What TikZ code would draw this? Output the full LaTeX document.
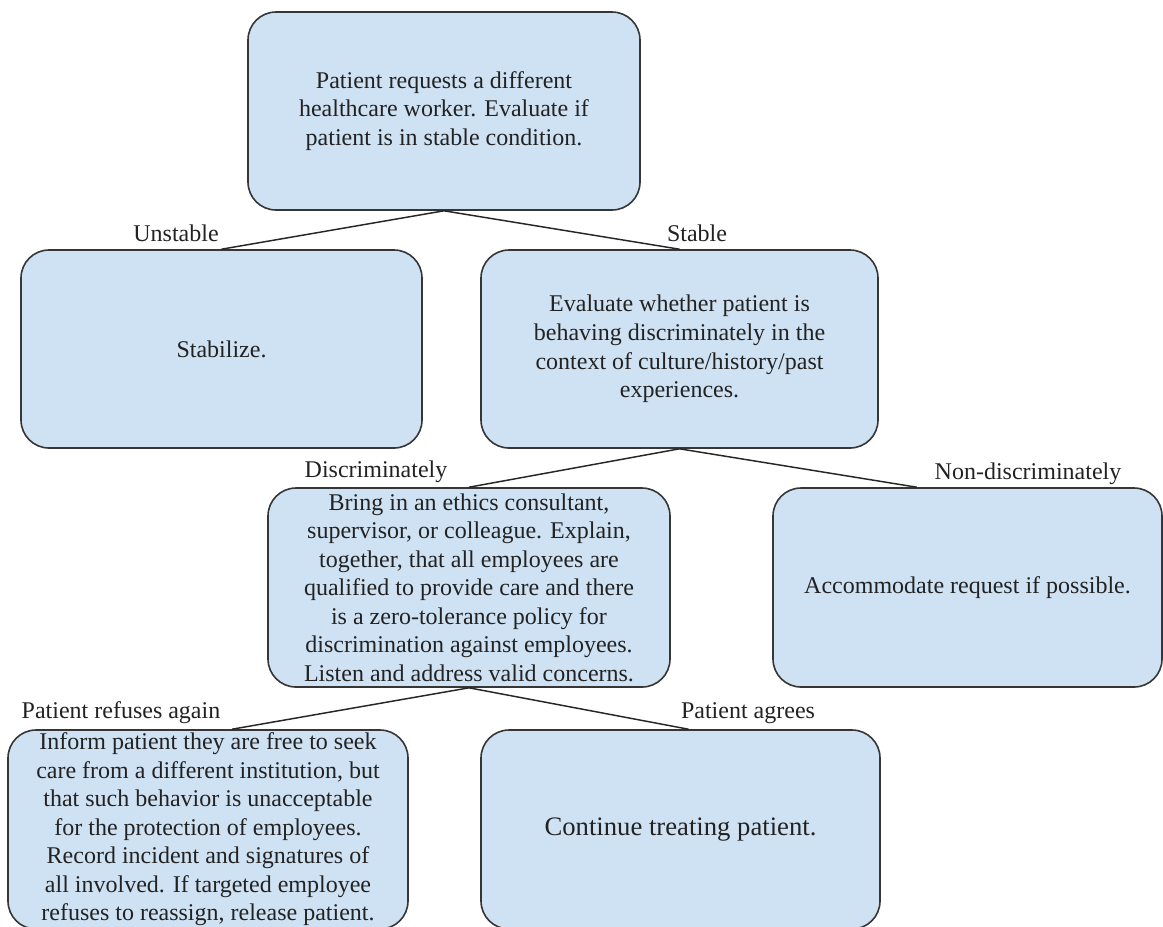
\documentclass[tikz,border=0pt]{standalone}
\usepackage{fontspec}
\setmainfont{LiberationSerif}[Extension=.ttf, UprightFont=*-Regular, BoldFont=*-Bold, ItalicFont=*-Italic, BoldItalicFont=*-BoldItalic]
\usetikzlibrary{calc}
\definecolor{boxfill}{HTML}{CFE2F3}
\definecolor{boxline}{HTML}{363636}
\definecolor{txt}{HTML}{222222}
\begin{document}
\begin{tikzpicture}[x=0.75pt,y=-0.75pt,
 box/.style={draw=boxline, line width=1.2pt, fill=boxfill, rounded corners=21pt, inner sep=0pt, align=center, text=txt, font=\fontsize{18}{21.4}\selectfont},
 lbl/.style={inner sep=0pt, text=txt, font=\fontsize{18}{21.4}\selectfont},
 conn/.style={draw=black!85, line width=1.1pt}]
\useasboundingbox (0,0) rectangle (1163,926);
\node[box, minimum width=294pt, minimum height=148.5pt] (top) at (444,111)
  {Patient requests a different\\healthcare worker. Evaluate if\\patient is in stable condition.};
\node[box, minimum width=300.75pt, minimum height=148.5pt] (stab) at (221.5,349) {Stabilize.};
\node[box, minimum width=297.75pt, minimum height=148.5pt] (eval) at (679.5,349)
  {Evaluate whether patient is\\behaving discriminately in the\\context of culture/history/past\\experiences.};
\node[box, minimum width=301.5pt, minimum height=149.25pt] (bring) at (469,587.5)
  {Bring in an ethics consultant,\\supervisor, or colleague. Explain,\\together, that all employees are\\qualified to provide care and there\\is a zero-tolerance policy for\\discrimination against employees.\\Listen and address valid concerns.};
\node[box, minimum width=291.75pt, minimum height=149.25pt] (acc) at (967.5,587.5) {Accommodate request if possible.};
\node[box, minimum width=300pt, minimum height=149.25pt] (inform) at (208,829.5)
  {Inform patient they are free to seek\\care from a different institution, but\\that such behavior is unacceptable\\for the protection of employees.\\Record incident and signatures of\\all involved. If targeted employee\\refuses to reassign, release patient.};
\node[box, minimum width=299.25pt, minimum height=149.25pt, font=\fontsize{20}{24}\selectfont] (cont) at (680.5,829.5) {Continue treating patient.};
\node[lbl] (lunst) at (176,233) {Unstable};
\node[lbl] (lstab) at (697,233) {Stable};
\node[lbl] (ldisc) at (376,472) {Discriminately};
\node[lbl] (lnond) at (1028,474) {Non-discriminately};
\node[lbl] (lref) at (121,713) {Patient refuses again};
\node[lbl] (lagr) at (748,713) {Patient agrees};
\draw[conn] (top.south) -- (stab.north);
\draw[conn] (top.south) -- (eval.north);
\draw[conn] (eval.south) -- (bring.north);
\draw[conn] (eval.south) -- ($(acc.north west)!0.37!(acc.north east)$);
\draw[conn] (bring.south) -- ($(inform.north west)!0.56!(inform.north east)$);
\draw[conn] (bring.south) -- ($(cont.north west)!0.52!(cont.north east)$);
\end{tikzpicture}
\end{document}
